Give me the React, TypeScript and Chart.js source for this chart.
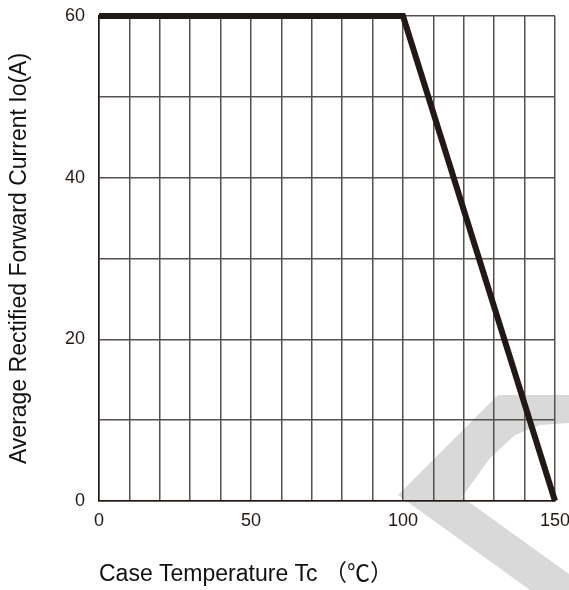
import React, { useEffect, useRef } from "react";
import { Chart, registerables } from "chart.js";

Chart.register(...registerables);

const temperatures = [0, 100, 150];
const currents = [60, 60, 0];
const xTickLabels = [0, 50, 100, 150];
const yTickLabels = [0, 20, 40, 60];

const xTitle = "Case Temperature Tc （℃）";
const yTitle = "Average Rectified Forward Current Io(A)";

const watermark = {
  id: "watermark",
  beforeDraw(chart: any) {
    const ctx = chart.ctx;
    ctx.save();
    ctx.fillStyle = "#d9d9d9";
    ctx.beginPath();
    const pts = [
      [398, 495], [498, 395], [569, 395], [569, 423], [540, 425], [515, 435],
      [490, 458], [462, 497], [569, 574], [569, 590], [530, 590],
    ];
    pts.forEach(([x, y], i) => (i === 0 ? ctx.moveTo(x, y) : ctx.lineTo(x, y)));
    ctx.closePath();
    ctx.fill();
    ctx.restore();
  },
};

export default function App() {
  const ref = useRef<HTMLCanvasElement>(null);
  useEffect(() => {
    const tickFont = { family: "'Liberation Sans', Arial, sans-serif", size: 18 };
    const titleFont = { family: "'Liberation Sans', Arial, 'Noto Sans CJK SC', sans-serif", size: 23 };
    const gridColor = "#54504d";
    const chart = new Chart(ref.current!, {
      type: "line",
      data: {
        datasets: [
          {
            data: temperatures.map((t, i) => ({ x: t, y: currents[i] })),
            borderColor: "#231815",
            borderWidth: 6,
            pointRadius: 0,
            fill: false,
            tension: 0,
            clip: false as any,
          },
        ],
      },
      options: {
        animation: false,
        responsive: false,
        maintainAspectRatio: false,
        layout: { padding: { top: 16, right: 14, left: 0, bottom: 0 } },
        plugins: { legend: { display: false }, tooltip: { enabled: false } },
        scales: {
          x: {
            type: "linear",
            min: 0,
            max: 150,
            afterFit: (s: any) => {
              s.height = 89;
              s.paddingLeft = 0;
              s.paddingRight = 0;
            },
            ticks: {
              stepSize: 10,
              autoSkip: false,
              maxRotation: 0,
              padding: 9,
              color: "#231815",
              font: tickFont,
              callback: (v: any) => (xTickLabels.includes(Number(v)) ? String(v) : ""),
            },
            grid: { color: gridColor, lineWidth: 1.5, drawTicks: false },
            border: { color: "#231815", width: 1.5 },
            title: {
              display: true,
              text: xTitle,
              align: "start",
              color: "#111",
              font: titleFont,
              padding: { top: 0, bottom: 2 },
            },
          },
          y: {
            type: "linear",
            min: 0,
            max: 60,
            afterFit: (s: any) => {
              s.width = 99;
              s.paddingTop = 0;
              s.paddingBottom = 0;
            },
            ticks: {
              stepSize: 10,
              autoSkip: false,
              padding: 14,
              color: "#231815",
              font: tickFont,
              callback: (v: any) => (yTickLabels.includes(Number(v)) ? String(v) : ""),
            },
            grid: { color: gridColor, lineWidth: 1.5, drawTicks: false },
            border: { color: "#231815", width: 1.5 },
            title: {
              display: true,
              text: yTitle,
              color: "#111",
              font: titleFont,
              padding: { top: 6, bottom: 0 },
            },
          },
        },
      },
      plugins: [watermark],
    });
    return () => chart.destroy();
  }, []);
  return (
    <div style={{ position: "fixed", left: 0, top: 0, width: 569, height: 590, background: "#fff" }}>
      <canvas ref={ref} width={569} height={590} style={{ width: 569, height: 590, display: "block" }} />
    </div>
  );
}
